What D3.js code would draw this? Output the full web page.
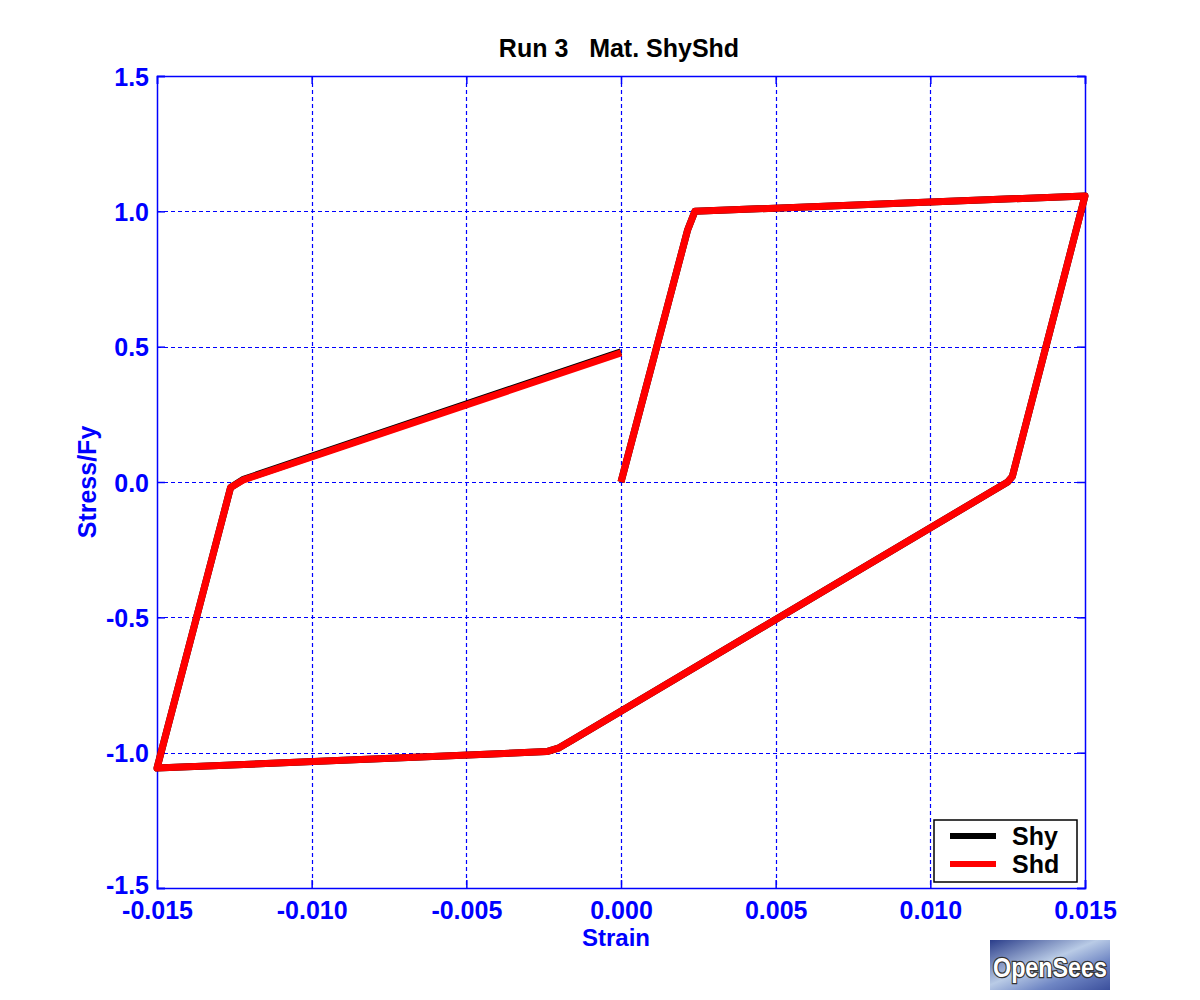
<!DOCTYPE html>
<html><head><meta charset="utf-8">
<script src="https://cdn.jsdelivr.net/npm/d3@7"></script>
<style>body{margin:0;background:#fff;} text{font-family:"Liberation Sans",Arial,sans-serif;}</style>
</head><body>
<svg id="c" width="1200" height="1000"></svg>
<script>
const title = "Run 3   Mat. ShyShd";
const xLabel = "Strain";
const yLabel = "Stress/Fy";
const xTicks = [-0.015, -0.010, -0.005, 0.000, 0.005, 0.010, 0.015];
const yTicks = [-1.5, -1.0, -0.5, 0.0, 0.5, 1.0, 1.5];
const seriesNames = ["Shy", "Shd"];
const seriesColors = ["#000000", "#ff0000"];
// strain, stress/Fy
const shyStrain = [0.0, 0.00215, 0.00239, 0.0150, 0.01265, 0.01250, -0.0016, -0.0020, -0.0024, -0.0150, -0.01262, -0.0122, 0.0];
const shyStress = [0.0, 0.93, 1.0, 1.057, 0.02, 0.0, -0.955, -0.982, -0.996, -1.057, -0.02, 0.010, 0.481];
const shdStrain = [0.0, 0.00215, 0.00239, 0.0150, 0.01265, 0.01250, -0.0016, -0.0020, -0.0024, -0.0150, -0.01262, -0.0122, 0.0];
const shdStress = [0.0, 0.93, 1.0, 1.057, 0.02, 0.0, -0.955, -0.982, -0.996, -1.057, -0.02, 0.008, 0.477];

const svg = d3.select("#c");
const L = 157, R = 1085, T = 76, B = 888;
const x = d3.scaleLinear().domain([-0.015, 0.015]).range([L, R]);
const y = d3.scaleLinear().domain([-1.5, 1.5]).range([B, T]);
const blue = "#0000ff";
const px = v => Math.round(v) + 0.5;

// grid
const g = svg.append("g");
g.selectAll(".gx").data(xTicks.slice(1, -1)).enter().append("line")
  .attr("x1", d => px(x(d))).attr("x2", d => px(x(d))).attr("y1", T).attr("y2", B)
  .attr("stroke", blue).attr("stroke-width", 1.2).attr("stroke-dasharray", "4,3");
g.selectAll(".gy").data(yTicks.slice(1, -1)).enter().append("line")
  .attr("y1", d => px(y(d))).attr("y2", d => px(y(d))).attr("x1", L).attr("x2", R)
  .attr("stroke", blue).attr("stroke-width", 1.2).attr("stroke-dasharray", "4,3");

// axes (ticks inward)
const fmtX = d => d3.format(".3f")(d).replace("−", "-");
const fmtY = d => d3.format(".1f")(d).replace("−", "-");
const axB = svg.append("g").attr("transform", `translate(0,${B})`)
  .call(d3.axisBottom(x).tickValues(xTicks).tickSize(-8).tickFormat(fmtX));
const axT = svg.append("g").attr("transform", `translate(0,${T})`)
  .call(d3.axisTop(x).tickValues(xTicks).tickSize(-8).tickFormat(""));
const axL = svg.append("g").attr("transform", `translate(${L},0)`)
  .call(d3.axisLeft(y).tickValues(yTicks).tickSize(-8).tickPadding(7).tickFormat(fmtY));
const axR = svg.append("g").attr("transform", `translate(${R},0)`)
  .call(d3.axisRight(y).tickValues(yTicks).tickSize(-8).tickFormat(""));
[axB, axT, axL, axR].forEach(a => {
  a.selectAll("path").attr("stroke", blue).attr("stroke-width", 1.5);
  a.selectAll("line").attr("stroke", blue).attr("stroke-width", 1.5);
  a.selectAll("text").attr("fill", blue).style("font-size", "25px").style("font-weight", "bold")
   .style("font-family", '"Liberation Sans",Arial,sans-serif');
});
axB.selectAll("text").attr("dy", "0.71em").attr("y", 13);
axL.selectAll("text").attr("dy", "0.36em").attr("x", -8);
axL.selectAll("text").filter(d => d === -1.5).attr("dy", "0.22em");

// series
const line = d3.line().x(d => x(d[0])).y(d => y(d[1]));
const series = [
  d3.zip(shyStrain, shyStress),
  d3.zip(shdStrain, shdStress)
];
series.forEach((s, i) => {
  svg.append("path").datum(s).attr("d", line).attr("fill", "none")
    .attr("stroke", seriesColors[i]).attr("stroke-width", 7)
    .attr("stroke-linejoin", "round").attr("stroke-linecap", "butt");
});

// title and labels
svg.append("text").attr("x", 619).attr("y", 57).attr("text-anchor", "middle")
  .style("font-size", "25px").style("font-weight", "bold").attr("fill", "#000")
  .attr("xml:space", "preserve").text(title);
svg.append("text").attr("x", 616).attr("y", 946).attr("text-anchor", "middle")
  .style("font-size", "24px").style("font-weight", "bold").attr("fill", blue).text(xLabel);
svg.append("text").attr("transform", "translate(96,482) rotate(-90)").attr("text-anchor", "middle")
  .style("font-size", "25px").style("font-weight", "bold").attr("fill", blue).text(yLabel);

// legend
const lg = svg.append("g");
lg.append("rect").attr("x", 934).attr("y", 820).attr("width", 143).attr("height", 62)
  .attr("fill", "#fff").attr("stroke", "#000").attr("stroke-width", 1.5);
seriesNames.forEach((n, i) => {
  const yy = 836 + i * 28;
  lg.append("line").attr("x1", 950).attr("x2", 996).attr("y1", yy).attr("y2", yy)
    .attr("stroke", seriesColors[i]).attr("stroke-width", 6);
  lg.append("text").attr("x", 1012).attr("y", yy + 9).style("font-size", "25px")
    .style("font-weight", "bold").attr("fill", "#000").text(n);
});

// logo
const defs = svg.append("defs");
const grad = defs.append("linearGradient").attr("id", "lg1").attr("x1", "0").attr("y1", "0").attr("x2", "1").attr("y2", "1");
grad.append("stop").attr("offset", "0").attr("stop-color", "#2a3d8a");
grad.append("stop").attr("offset", "0.45").attr("stop-color", "#b9cbe6");
grad.append("stop").attr("offset", "0.7").attr("stop-color", "#6f86c4");
grad.append("stop").attr("offset", "1").attr("stop-color", "#3b4f9c");
svg.append("rect").attr("x", 990).attr("y", 940).attr("width", 120).attr("height", 50).attr("fill", "url(#lg1)");
svg.append("text").attr("x", 1050).attr("y", 977).attr("text-anchor", "middle")
  .style("font-size", "27px").style("font-weight", "bold").attr("fill", "#fff")
  .attr("stroke", "#333").attr("stroke-width", 2.5).style("paint-order", "stroke")
  .attr("textLength", 114).attr("lengthAdjust","spacingAndGlyphs").text("OpenSees");
</script>
</body></html>
